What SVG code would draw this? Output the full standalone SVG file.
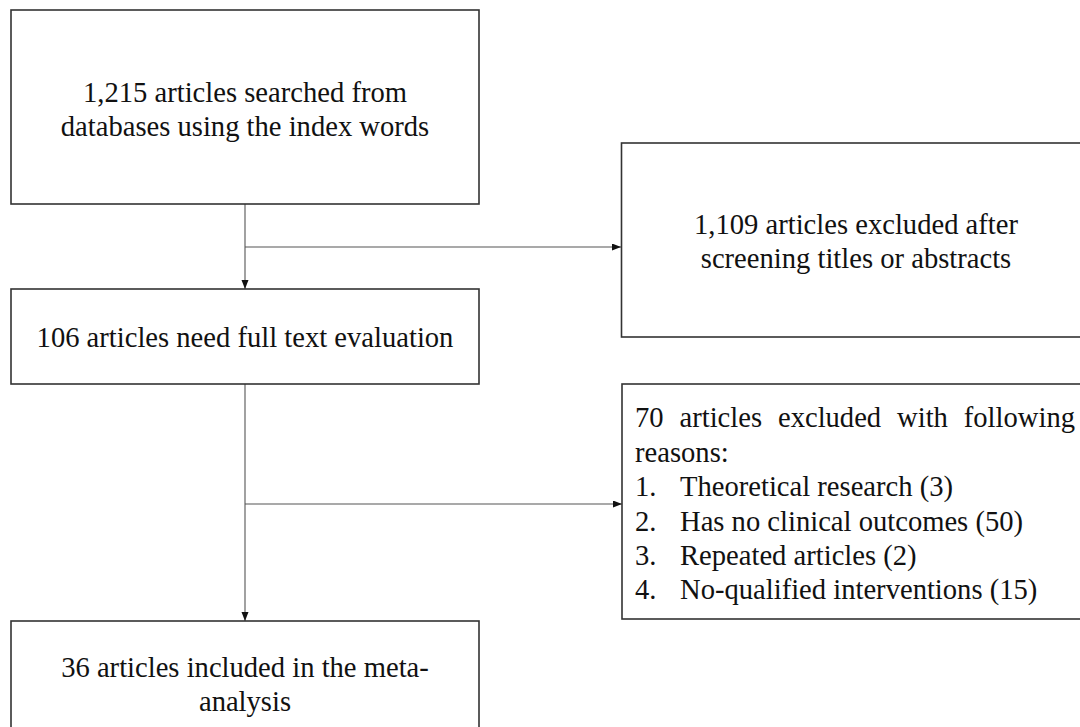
<svg xmlns="http://www.w3.org/2000/svg" width="1080" height="727" viewBox="0 0 1080 727">
<style>
.box{fill:#fff;stroke:#333;stroke-width:1.6}
.t{font-family:"Liberation Serif","Times New Roman",serif;font-size:28.6px;fill:#111}
.c{text-anchor:middle}
.conn{stroke:#555;stroke-width:1.1;fill:none}
</style>
<defs>
<marker id="arr" markerUnits="userSpaceOnUse" markerWidth="10" markerHeight="8" refX="9" refY="3.5" orient="auto">
<path d="M0,0 L9,3.5 L0,7 z" fill="#111"/>
</marker>
</defs>
<rect width="1080" height="727" fill="#fff"/>
<g id="connectors">
<line class="conn" x1="245" y1="204" x2="245" y2="289" marker-end="url(#arr)"/>
<line class="conn" x1="245" y1="247" x2="621" y2="247" marker-end="url(#arr)"/>
<line class="conn" x1="245" y1="384" x2="245" y2="621" marker-end="url(#arr)"/>
<line class="conn" x1="245" y1="504" x2="622" y2="504" marker-end="url(#arr)"/>
</g>
<g id="n1">
<rect class="box" x="11" y="10" width="468" height="194"/>
<text class="t c" x="245" y="102">1,215 articles searched from</text>
<text class="t c" x="245" y="136">databases using the index words</text>
</g>
<g id="n2">
<rect class="box" x="11" y="289" width="468" height="95"/>
<text class="t c" x="245" y="347">106 articles need full text evaluation</text>
</g>
<g id="n3">
<rect class="box" x="621.5" y="143" width="470" height="194"/>
<text class="t c" x="856" y="234">1,109 articles excluded after</text>
<text class="t c" x="856" y="268">screening titles or abstracts</text>
</g>
<g id="n4">
<rect class="box" x="622" y="384" width="470" height="235"/>
<text class="t" x="635" y="427" word-spacing="8.75">70 articles excluded with following</text>
<text class="t" x="635" y="461.5">reasons:</text>
<text class="t" y="496"><tspan x="635">1.</tspan><tspan x="680">Theoretical research (3)</tspan></text>
<text class="t" y="530.5"><tspan x="635">2.</tspan><tspan x="680">Has no clinical outcomes (50)</tspan></text>
<text class="t" y="565"><tspan x="635">3.</tspan><tspan x="680">Repeated articles (2)</tspan></text>
<text class="t" y="599"><tspan x="635">4.</tspan><tspan x="680">No-qualified interventions (15)</tspan></text>
</g>
<g id="n5">
<rect class="box" x="11" y="621" width="468" height="120"/>
<text class="t c" x="245" y="677">36 articles included in the meta-</text>
<text class="t c" x="245" y="711">analysis</text>
</g>
</svg>
